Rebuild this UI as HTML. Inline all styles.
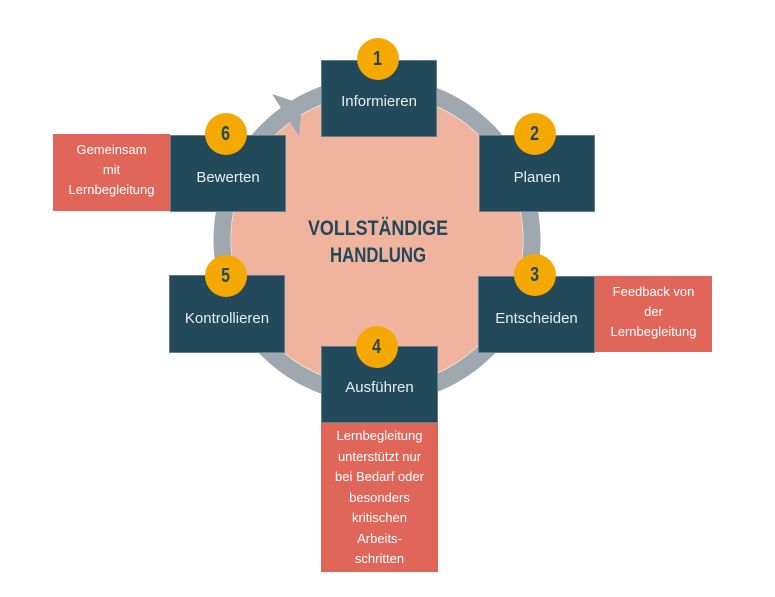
<!DOCTYPE html>
<html><head><meta charset="utf-8"><style>
body{margin:0;background:#fff;width:775px;height:597px;overflow:hidden;position:relative;font-family:"Liberation Sans",sans-serif}
.b{position:absolute;background:#234a5a;color:#e8eef0;font-size:15px;text-align:center;box-sizing:border-box;border:1px solid #5f7f8c}
.n{position:absolute;width:42px;height:42px;border-radius:50%;background:#f5a800;color:#234a5a;font-weight:bold;font-size:20px;text-align:center;line-height:42px}
.n span{display:inline-block;transform:scaleX(0.8)}
.r{position:absolute;background:#e0665a;color:#fff;font-size:13px;text-align:center;line-height:20px;box-sizing:border-box}
</style></head><body>
<svg width="775" height="597" style="position:absolute;left:0;top:0">
<circle cx="377" cy="240" r="155" fill="none" stroke="#9fa8ae" stroke-width="17"/>
<circle cx="377" cy="240" r="146" fill="#f0b49e"/>
<polygon points="272,94 302,104 299,136" fill="#9fa8ae"/>
<text x="308" y="235" textLength="140" lengthAdjust="spacingAndGlyphs" font-family="Liberation Sans, sans-serif" font-weight="bold" font-size="21" fill="#23485a">VOLLSTÄNDIGE</text>
<text x="330" y="262" textLength="96" lengthAdjust="spacingAndGlyphs" font-family="Liberation Sans, sans-serif" font-weight="bold" font-size="21" fill="#23485a">HANDLUNG</text>
</svg>
<div class="r" style="left:53px;top:134px;width:117px;height:77px;padding-top:6px">Gemeinsam<br>mit<br>Lernbegleitung</div>
<div class="r" style="left:595px;top:276px;width:117px;height:76px;padding-top:6px">Feedback von<br>der<br>Lernbegleitung</div>
<div class="r" style="left:321px;top:422px;width:117px;height:150px;padding-top:4px;line-height:20.5px">Lernbegleitung<br>unterstützt nur<br>bei Bedarf oder<br>besonders<br>kritischen<br>Arbeits-<br>schritten</div>
<div class="b" style="left:321px;top:60px;width:116px;height:77px;padding-top:32px">Informieren</div>
<div class="b" style="left:479px;top:135px;width:116px;height:77px;padding-top:33px">Planen</div>
<div class="b" style="left:170px;top:135px;width:116px;height:77px;padding-top:33px">Bewerten</div>
<div class="b" style="left:169px;top:275px;width:116px;height:78px;padding-top:34px">Kontrollieren</div>
<div class="b" style="left:478px;top:276px;width:117px;height:77px;padding-top:33px">Entscheiden</div>
<div class="b" style="left:321px;top:346px;width:117px;height:77px;padding-top:32px">Ausführen</div>
<div class="n" style="left:357px;top:38px"><span>1</span></div>
<div class="n" style="left:514px;top:113px"><span>2</span></div>
<div class="n" style="left:205px;top:113px"><span>6</span></div>
<div class="n" style="left:205px;top:255px"><span>5</span></div>
<div class="n" style="left:514px;top:254px"><span>3</span></div>
<div class="n" style="left:356px;top:326px"><span>4</span></div>
</body></html>
